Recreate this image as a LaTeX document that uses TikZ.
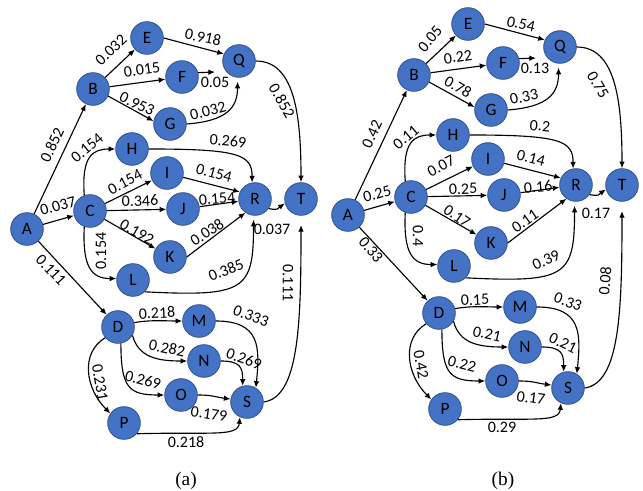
\documentclass[tikz,border=0pt]{standalone}
\usepackage{fontspec}
\setmainfont{Carlito}
\newfontfamily\capfont{Liberation Serif}
\usetikzlibrary{arrows.meta}
\definecolor{nodefill}{HTML}{4472C4}
\definecolor{nodeedge}{HTML}{2F528F}
\tikzset{
 vtx/.style={circle, fill=nodefill, draw=nodeedge, line width=0.6pt, minimum size=24.5pt, inner sep=0pt, font=\fontsize{13}{13}\selectfont, text=black},
 conn/.style={draw=black, line width=0.85pt, -{Latex[length=5pt,width=4.2pt]}},
 lbl/.style={font=\fontsize{12}{12}\selectfont, inner sep=0pt},
 captxt/.style={font=\capfont\fontsize{14.5}{15}\selectfont, inner sep=0pt},
}
\newcommand\drawgraph{%
 \node[vtx] (A) at (27,229) {A};
 \node[vtx] (B) at (93,89) {B};
 \node[vtx] (C) at (90,211) {C};
 \node[vtx] (D) at (118,327) {D};
 \node[vtx] (E) at (147,38) {E};
 \node[vtx] (F) at (182,77) {F};
 \node[vtx] (G) at (170,124) {G};
 \node[vtx] (H) at (132,149) {H};
 \node[vtx] (I) at (167,173) {I};
 \node[vtx] (J) at (183,209) {J};
 \node[vtx] (K) at (170,257) {K};
 \node[vtx] (L) at (133,280) {L};
 \node[vtx] (M) at (199,321) {M};
 \node[vtx] (N) at (204,361) {N};
 \node[vtx] (O) at (181,395) {O};
 \node[vtx] (P) at (124,423) {P};
 \node[vtx] (Q) at (239,61) {Q};
 \node[vtx] (R) at (255,199) {R};
 \node[vtx] (S) at (247,402) {S};
 \node[vtx] (T) at (301,199) {T};
 \coordinate (fq) at (215,72);
 \draw[conn] (A) -- (B);
 \draw[conn] (A) -- (C);
 \draw[conn] (A) -- (D);
 \draw[conn] (B) -- (E);
 \draw[conn] (B) -- (F);
 \draw[conn] (B.-25) -- (G.170);
 \draw[conn] (E.east) -- (Q.155);
 \draw[conn] (F.15) -- (fq);
 \draw[conn, shorten >=3pt] (G.east) .. controls +(40,-3) and +(0,30) .. (Q.265);
 \draw[conn] (Q.east) .. controls +(38,0) and +(0,-70) .. (T.north);
 \draw[conn] (C.110) .. controls +(-3,-40) and +(-22,0) .. (H.west);
 \draw[conn] (C.250) .. controls +(-2,40) and +(-25,0) .. (L.175);
 \draw[conn] (C) -- (I);
 \draw[conn] (C) -- (J);
 \draw[conn] (C) -- (K);
 \draw[conn] (H.east) .. controls +(90,0) and +(0,-28) .. (R.100);
 \draw[conn] (I.-15) -- (R.155);
 \draw[conn] (J) -- (R);
 \draw[conn] (K.east) -- (R.235);
 \draw[conn, shorten >=3pt] (L.-45) .. controls +(100,5) and +(0,75) .. (R.265);
 \draw[conn] (R.-35) .. controls +(10,2) and +(-7,5) .. (T.195);
 \draw[conn, shorten >=7pt] (S.east) .. controls +(35,-5) and +(0,110) .. (T.south);
 \draw[conn] (D.15) .. controls +(15,-3) and +(-15,0) .. (M.west);
 \draw[conn] (D.-30) .. controls +(6,22) and +(-30,0) .. (N.west);
 \draw[conn] (D.-80) .. controls +(0,45) and +(-35,0) .. (O.west);
 \draw[conn] (D.220) .. controls +(-25,15) and +(-25,-25) .. (P.145);
 \draw[conn] (M.east) .. controls +(45,0) and +(4,-40) .. (S.58);
 \draw[conn] (N.east) .. controls +(20,0) and +(0,-18) .. (S.105);
 \draw[conn] (O.east) .. controls +(15,0) and +(-15,-2) .. (S.170);
 \draw[conn] (P.-40) .. controls +(75,-2) and +(-2,20) .. (S.245);
}
\begin{document}
\begin{tikzpicture}[x=0.75pt,y=-0.75pt]
\useasboundingbox (0,0) rectangle (643,491);
\drawgraph
\begin{scope}[shift={(321,-14)}]
\drawgraph
\end{scope}
% labels (a)
\node[lbl, rotate=65] (aAB) at (52,145) {0.852};
\node[lbl, rotate=16] (aAC) at (58,206) {0.037};
\node[lbl, rotate=-47] (aAD) at (51,270) {0.111};
\node[lbl, rotate=43] (aBE) at (111,50) {0.032};
\node[lbl, rotate=8] (aBF) at (142,70) {0.015};
\node[lbl, rotate=-25] (aBG) at (137,104) {0.953};
\node[lbl, rotate=-12] (aEQ) at (203,37) {0.918};
\node[lbl] (aFQ) at (215,82) {0.05};
\node[lbl, rotate=15] (aGQ) at (208,111) {0.032};
\node[lbl, rotate=-60] (aQT) at (282,101) {0.852};
\node[lbl, rotate=40] (aCH) at (87,148) {0.154};
\node[lbl, rotate=28] (aCI) at (125,182) {0.154};
\node[lbl, rotate=2] (aCJ) at (140,201) {0.346};
\node[lbl, rotate=-30] (aCK) at (137,232) {0.192};
\node[lbl, rotate=90] (aCL) at (101,251) {0.154};
\node[lbl, rotate=-5] (aHR) at (228,141) {0.269};
\node[lbl, rotate=-15] (aIR) at (214,173) {0.154};
\node[lbl, rotate=5] (aJR) at (217,199) {0.154};
\node[lbl, rotate=33] (aKR) at (207,232) {0.038};
\node[lbl, rotate=22] (aLR) at (226,270) {0.385};
\node[lbl] (aRT) at (272,229) {0.037};
\node[lbl, rotate=-90] (aST) at (288,283) {0.111};
\node[lbl, rotate=3] (aDM) at (157,313) {0.218};
\node[lbl, rotate=-12] (aDN) at (167,348) {0.282};
\node[lbl, rotate=-15] (aDO) at (143,380) {0.269};
\node[lbl, rotate=-80] (aDP) at (100,383) {0.231};
\node[lbl, rotate=-20] (aMS) at (251,316) {0.333};
\node[lbl, rotate=-20] (aNS) at (244,359) {0.269};
\node[lbl, rotate=-8] (aOS) at (209,414) {0.179};
\node[lbl] (aPS) at (186,442) {0.218};
% labels (b)
\node[lbl, rotate=65] (bAB) at (372,134) {0.42};
\node[lbl, rotate=16] (bAC) at (377,194) {0.25};
\node[lbl, rotate=-50] (bAD) at (371,250) {0.33};
\node[lbl, rotate=50] (bBE) at (430,39) {0.05};
\node[lbl, rotate=8] (bBF) at (458,57) {0.22};
\node[lbl, rotate=-30] (bBG) at (458,87) {0.78};
\node[lbl, rotate=-12] (bEQ) at (521,24) {0.54};
\node[lbl] (bFQ) at (535,68) {0.13};
\node[lbl, rotate=12] (bGQ) at (524,97) {0.33};
\node[lbl, rotate=-60] (bQT) at (598,85) {0.75};
\node[lbl, rotate=40] (bCH) at (406,137) {0.11};
\node[lbl, rotate=28] (bCI) at (441,166) {0.07};
\node[lbl, rotate=2] (bCJ) at (463,189) {0.25};
\node[lbl, rotate=-35] (bCK) at (457,216) {0.17};
\node[lbl, rotate=-90] (bCL) at (418,236) {0.4};
\node[lbl, rotate=-5] (bHR) at (540,126) {0.2};
\node[lbl, rotate=-15] (bIR) at (531,158) {0.14};
\node[lbl, rotate=5] (bJR) at (538,187) {0.16};
\node[lbl, rotate=35] (bKR) at (525,221) {0.11};
\node[lbl, rotate=25] (bLR) at (546,260) {0.39};
\node[lbl] (bRT) at (596,213) {0.17};
\node[lbl, rotate=85] (bST) at (605,281) {0.08};
\node[lbl, rotate=3] (bDM) at (475,300) {0.15};
\node[lbl, rotate=-12] (bDN) at (487,334) {0.21};
\node[lbl, rotate=-15] (bDO) at (462,364) {0.22};
\node[lbl, rotate=-80] (bDP) at (421,365) {0.42};
\node[lbl, rotate=-20] (bMS) at (568,302) {0.33};
\node[lbl, rotate=-25] (bNS) at (563,343) {0.21};
\node[lbl, rotate=-8] (bOS) at (531,398) {0.17};
\node[lbl] (bPS) at (502,427) {0.29};
% captions
\node[captxt] (capa) at (186,481) {(a)};
\node[captxt] (capb) at (503,481) {(b)};
\end{tikzpicture}
\end{document}
